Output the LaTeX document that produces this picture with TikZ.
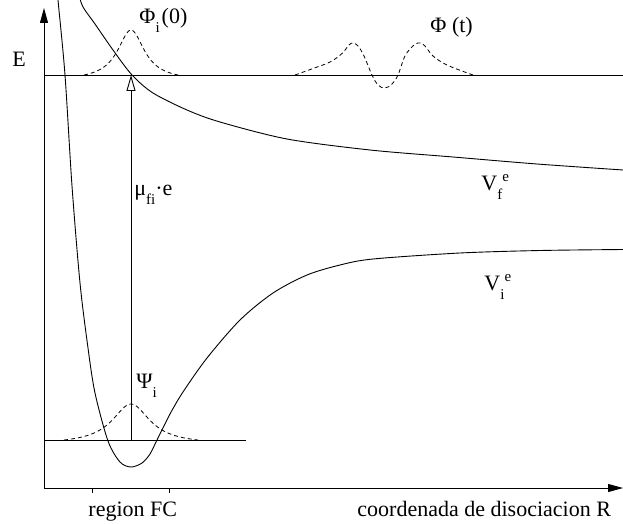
\documentclass[tikz,border=0pt]{standalone}
\usepackage{fontspec}
\setmainfont{Liberation Serif}
\usetikzlibrary{arrows.meta}
\newcommand\lowr[1]{\raisebox{-9pt}{\fontsize{15}{15}\selectfont #1}}
\newcommand\highr[1]{\raisebox{9pt}{\fontsize{15}{15}\selectfont #1}}
\begin{document}
\begin{tikzpicture}[x=1pt,y=-1pt,line width=0.9pt,
  lbl/.style={inner sep=0pt,anchor=base west,font=\fontsize{22}{26}\selectfont},
  wave/.style={dash pattern=on 4pt off 3pt,line width=0.8pt},
  pot/.style={line width=0.9pt},
  axis/.style={-{Triangle[length=15pt,width=8pt]}},
  trans/.style={-{Triangle[open,length=16pt,width=9pt,fill=white]}}]
\useasboundingbox (0,0) rectangle (623,524);
% coordinates
\coordinate (O) at (44,488);
\coordinate (Ytop) at (44,8);
\coordinate (Xend) at (623,488);
\coordinate (E0) at (44,75);
\coordinate (E1) at (623,75);
\coordinate (G0) at (44,440);
\coordinate (G1) at (246,440);
\coordinate (T0) at (131,440);
\coordinate (T1) at (131,75);
\coordinate (K1a) at (92,488);
\coordinate (K1b) at (92,493);
\coordinate (K2a) at (169,488);
\coordinate (K2b) at (169,493);
% axes
\draw[axis] (O) -- (Ytop);
\draw[axis] (O) -- (Xend);
\draw (K1a) -- (K1b);
\draw (K2a) -- (K2b);
% levels
\draw (E0) -- (E1);
\draw (G0) -- (G1);
% potentials
\begin{scope}
\clip (0,0) rectangle (623,524);
\draw[pot] plot[smooth,tension=0.5] coordinates {(57.3,-10) (58,0) (65,75) (72,186) (80,283) (88,348) (95,393) (108,441) (120,462) (131,467) (142,463) (150,454) (157,440) (170,414) (183,392) (207,358) (240,320) (273,293) (307,275) (340,265) (373,259) (460,253) (540,250.5) (623,249.5)};
\draw[pot] plot[smooth,tension=0.5] coordinates {(79,-5) (83,7) (95,24) (113,50) (132,75) (153,93) (187,110) (220,122) (287,139) (370,150) (453,157) (537,164) (623,170)};
\end{scope}
% wave packets
\draw[wave] plot[domain=84:178,samples=80] (\x,{75-45*(1/(1+((\x-131)/16.3)^2)-0.1074)/0.8926});
\draw[wave] plot[domain=64:198,samples=90] (\x,{440-36*(1/(1+((\x-131)/23)^2)-0.1054)/0.8946});
\draw[wave] plot[smooth,tension=0.6] coordinates {(295,75) (313,68.5) (330,62) (342,53.5) (349,45) (353,43) (358,46) (364,56) (372,75) (378,85) (385,88) (392,84) (398,75) (405,56) (414,45) (420,43) (425,46) (433,56) (445,64) (458,69.5) (473,75)};
% transition
\draw[trans] (T0) -- (T1);
% labels
\node[lbl] (lE) at (12,67) {E};
\node[lbl] (lphi0) at (139,24) {Φ\lowr{i}\hspace{2pt}(0)};
\node[lbl] (lphit) at (430,33) {Φ (t)};
\node[lbl] (lmu) at (134,195) {μ\lowr{fi}·e};
\node[lbl] (lpsi) at (136,388) {Ψ\lowr{i}};
\node[lbl] (lvf) at (481,190) {V\lowr{f}\highr{e}};
\node[lbl] (lvi) at (484,290) {V\lowr{i}\highr{e}};
\node[lbl] (lfc) at (88,516) {region FC};
\node[lbl] (lr) at (357,516) {coordenada de disociacion R};
\end{tikzpicture}
\end{document}
